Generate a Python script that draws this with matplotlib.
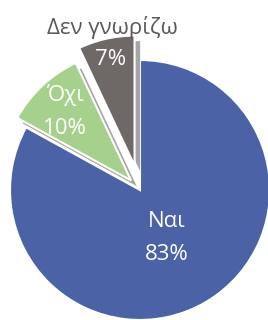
import numpy as np
import matplotlib
matplotlib.use('Agg')
import matplotlib.pyplot as plt
import matplotlib.patches as mpatches

# data
labels = ['Ναι', 'Όχι', 'Δεν γνωρίζω']
shares = [83, 10, 7]
colors = ['#4b63a6', '#a6d18c', '#6e6866']
explode = [0, 13, 25]

plt.rcParams['font.family'] = ['Open Sans', 'DejaVu Sans']

fig = plt.figure(figsize=(2.68, 3.2), dpi=100)
ax = fig.add_axes([0, 0, 1, 1])

cx, cy, r = 140, -190, 130
wedges, _ = ax.pie(shares, colors=colors, explode=explode, startangle=90,
                   counterclock=False, radius=r, center=(cx, cy),
                   wedgeprops=dict(edgecolor='white', linewidth=1.5))
# light grey drop shadow behind the pulled-out slices
for w in wedges[1:]:
    sh = mpatches.Shadow(w, 4, -4, facecolor='#a5a5a5', edgecolor='none', alpha=1)
    sh.set_zorder(w.get_zorder() - 0.1)
    ax.add_patch(sh)
wedges[0].set_zorder(wedges[0].get_zorder() - 0.2)

ax.set_xlim(0, 268)
ax.set_ylim(-320, 0)
ax.set_aspect('equal')
ax.axis('off')

# label positions as fraction of radius from each wedge centre
dist = [0.43, 0.72, 0.84]
fs = 16
for w, lab, val, d in zip(wedges, labels, shares, dist):
    mid = np.deg2rad((w.theta1 + w.theta2) / 2)
    wx, wy = w.center
    tx = wx + d * r * np.cos(mid)
    ty = wy + d * r * np.sin(mid)
    if lab == 'Δεν γνωρίζω':
        ax.text(tx, ty, f'{val}%', color='white', fontsize=fs,
                ha='center', va='center')
        ax.text(tx + 2, ty + 32, lab, color='#595959', fontsize=fs,
                ha='center', va='center')
    else:
        ax.text(tx - 2, ty + 17, lab, color='white', fontsize=fs,
                ha='center', va='center')
        ax.text(tx - 2, ty - 16, f'{val}%', color='white', fontsize=fs,
                ha='center', va='center')

fig.savefig('out.png', dpi=100)
